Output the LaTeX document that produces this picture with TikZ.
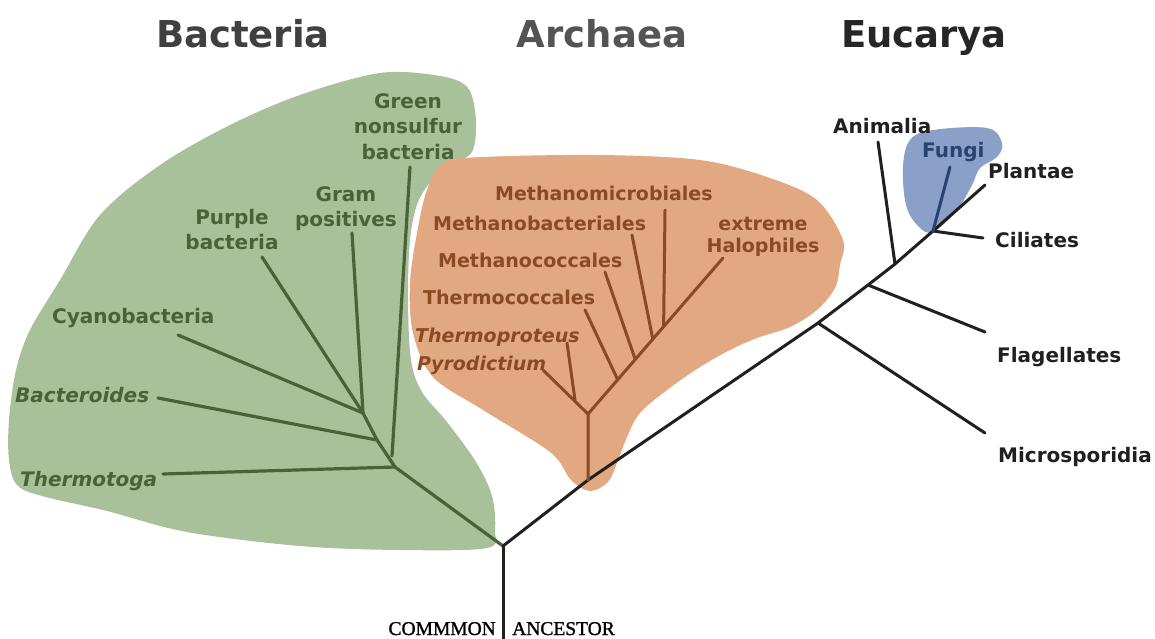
\documentclass[tikz,border=0pt]{standalone}
\usepackage{fontspec}
\setmainfont{DejaVu Sans}
\newfontfamily\ancfont[FakeBold=1.2]{Liberation Serif}
\usetikzlibrary{calc}
\definecolor{bactfill}{RGB}{168,193,155}
\definecolor{bactdark}{RGB}{74,98,56}
\definecolor{archfill}{RGB}{225,168,130}
\definecolor{archdark}{RGB}{138,75,35}
\definecolor{fungfill}{RGB}{138,160,200}
\definecolor{fungdark}{RGB}{42,66,112}
\definecolor{eucdark}{RGB}{32,32,32}

\begin{document}
\begin{tikzpicture}[x=1pt,y=-1pt,line cap=round,line join=round,
  bline/.style={line width=3.2pt,bactdark},
  aline/.style={line width=3pt,archdark},
  eline/.style={line width=3pt,eucdark},
  bact/.style={inner sep=0pt,bactdark,font=\fontsize{20}{25.5}\selectfont\bfseries,align=center},
  arch/.style={inner sep=0pt,archdark,font=\fontsize{19}{22}\selectfont\bfseries,align=center},
  euc/.style={inner sep=0pt,eucdark,font=\fontsize{20}{24}\selectfont\bfseries},
  title/.style={inner sep=0pt,anchor=base,font=\fontsize{37}{40}\selectfont\bfseries}]
  \useasboundingbox (0,0) rectangle (1155,638);
  %
  % Coloured regions
  \fill[bactfill] plot[smooth cycle,tension=0.55] coordinates {
    (380,73) (440,76) (468,88) (476,120) (473,150) (460,161) (436,176)
    (418,202) (410,240) (408,300) (411,360) (422,392) (447,422) (476,462)
    (492,496) (495,530) (487,548) (400,550) (300,546) (187,532) (107,511)
    (42,496) (17,485) (9,460) (9,420) (16,370) (30,330) (60,280) (100,215)
    (160,165) (230,125) (300,95)};
  \fill[archfill] plot[smooth cycle,tension=0.55] coordinates {
    (443,163) (483,157) (600,155) (700,160) (767,177) (817,200) (843,240)
    (840,265) (835,288) (817,310) (790,327) (757,338) (730,350) (700,367)
    (667,390) (640,413) (627,437) (617,463) (608,482) (590,491) (571,480)
    (550,452) (483,410) (433,377) (413,333) (410,283) (417,233) (427,190)};
  \fill[fungfill] plot[smooth cycle,tension=0.6] coordinates {
    (910,140) (933,130) (987,128) (1002,143) (997,157) (980,168) (972,185)
    (957,210) (933,232) (918,226) (906,205) (903,167)};
  %
  % Domain titles
  \node[title,black!75] (bacteria) at (243,47) {Bacteria};
  \node[title,black!67] (archaea) at (602,47) {Archaea};
  \node[title,black!85] (eucarya) at (924,47) {Eucarya};
  %
  % Trunk
  \coordinate (root) at (503,546);
  \coordinate (base) at (503,645);
  \node[anchor=base east,inner sep=0pt,font=\ancfont\fontsize{19.5}{20}\selectfont] (ancl) at (496,635) {COMMMON};
  \node[anchor=base west,inner sep=0pt,font=\ancfont\fontsize{19.5}{20}\selectfont] (ancr) at (512,635) {ANCESTOR};
  \draw[eline] (base) -- (root);
  %
  % Bacteria
  \coordinate (bj1) at (395,467);
  \coordinate (bj2) at (377,440);
  \coordinate (bj3) at (363,413);
  \coordinate (bgn) at (392,456);
  \coordinate (thermotoga-end) at (163,474);
  \coordinate (bacteroides-end) at (158,398);
  \coordinate (cyano-end) at (178,335);
  \coordinate (purple-end) at (262,257);
  \coordinate (gram-end) at (352,233);
  \coordinate (green-end) at (410,167);
  \draw[bline] (root) -- (bj1) -- (bj2) -- (bj3);
  \draw[bline] (bj1) -- (thermotoga-end);
  \draw[bline] (bj2) -- (bacteroides-end);
  \draw[bline] (bj3) -- (cyano-end);
  \draw[bline] (bj3) -- (purple-end);
  \draw[bline] (bj3) -- (gram-end);
  \draw[bline] (bgn) -- (green-end);
  \node[bact,anchor=north] (green) at (408,93) {Green\\nonsulfur\\bacteria};
  \node[bact,anchor=north] (gram) at (346,186) {Gram\\positives};
  \node[bact,anchor=north] (purple) at (232,209) {Purple\\bacteria};
  \node[bact,anchor=base west] (cyano) at (52,323) {Cyanobacteria};
  \node[bact,anchor=base west,font=\fontsize{20}{24}\selectfont\bfseries\itshape] (bacteroides) at (15,402) {Bacteroides};
  \node[bact,anchor=base west,font=\fontsize{20}{24}\selectfont\bfseries\itshape] (thermotoga) at (20,486) {Thermotoga};
  %
  % Main line towards Eucarya
  \coordinate (aj0) at (588,480);
  \coordinate (emic) at (818,323);
  \coordinate (efla) at (868,285);
  \coordinate (eani) at (895,264);
  \coordinate (ecil) at (933,231);
  \coordinate (plantae-end) at (985,185);
  \draw[eline] (root) -- (aj0) -- (emic) -- (efla) -- (eani) -- (ecil) -- (plantae-end);
  %
  % Archaea
  \coordinate (aj1) at (588,414);
  \coordinate (aj2) at (575,400);
  \coordinate (halo-end) at (723,258);
  \coordinate (pyro-end) at (543,370);
  \coordinate (tprot-end) at (567,343);
  \coordinate (tcocc-end) at (585,310);
  \coordinate (mcocc-end) at (605,272);
  \coordinate (mbact-end) at (632,235);
  \coordinate (mmicr-end) at (665,210);
  \draw[aline] (aj0) -- (aj1) -- (pyro-end);
  \draw[aline] (aj2) -- (tprot-end);
  \draw[aline] (aj1) -- (halo-end);
  \draw[aline] ($(aj1)!0.22!(halo-end)$) -- (tcocc-end);
  \draw[aline] ($(aj1)!0.35!(halo-end)$) -- (mcocc-end);
  \draw[aline] ($(aj1)!0.48!(halo-end)$) -- (mbact-end);
  \draw[aline] ($(aj1)!0.56!(halo-end)$) -- (mmicr-end);
  \node[arch,anchor=base west] (mmicr) at (495,200) {Methanomicrobiales};
  \node[arch,anchor=base west] (mbact) at (433,230) {Methanobacteriales};
  \node[arch,anchor=base west] (mcocc) at (438,267) {Methanococcales};
  \node[arch,anchor=base west] (tcocc) at (423,304) {Thermococcales};
  \node[arch,anchor=base west,font=\fontsize{19}{22}\selectfont\bfseries\itshape] (tprot) at (415,342) {Thermoproteus};
  \node[arch,anchor=base west,font=\fontsize{19}{22}\selectfont\bfseries\itshape] (pyro) at (417,370) {Pyrodictium};
  \node[arch,anchor=north] (halo) at (763,217) {extreme\\Halophiles};
  %
  % Eucarya
  \coordinate (mic-end) at (985,433);
  \coordinate (fla-end) at (985,332);
  \coordinate (ani-end) at (878,142);
  \coordinate (cil-end) at (983,238);
  \coordinate (fungi-end) at (950,167);
  \draw[eline] (emic) -- (mic-end);
  \draw[eline] (efla) -- (fla-end);
  \draw[eline] (eani) -- (ani-end);
  \draw[eline] (ecil) -- (cil-end);
  \draw[line width=3pt,fungdark] (ecil) -- (fungi-end);
  \node[euc,anchor=base west] (animalia) at (833,133) {Animalia};
  \node[euc,anchor=base west,fungdark] (fungi) at (922,157) {Fungi};
  \node[euc,anchor=base west] (plantae) at (988,178) {Plantae};
  \node[euc,anchor=base west] (ciliates) at (995,247) {Ciliates};
  \node[euc,anchor=base west] (flagellates) at (997,362) {Flagellates};
  \node[euc,anchor=base west] (microsporidia) at (998,462) {Microsporidia};
  %
\end{tikzpicture}
\end{document}
